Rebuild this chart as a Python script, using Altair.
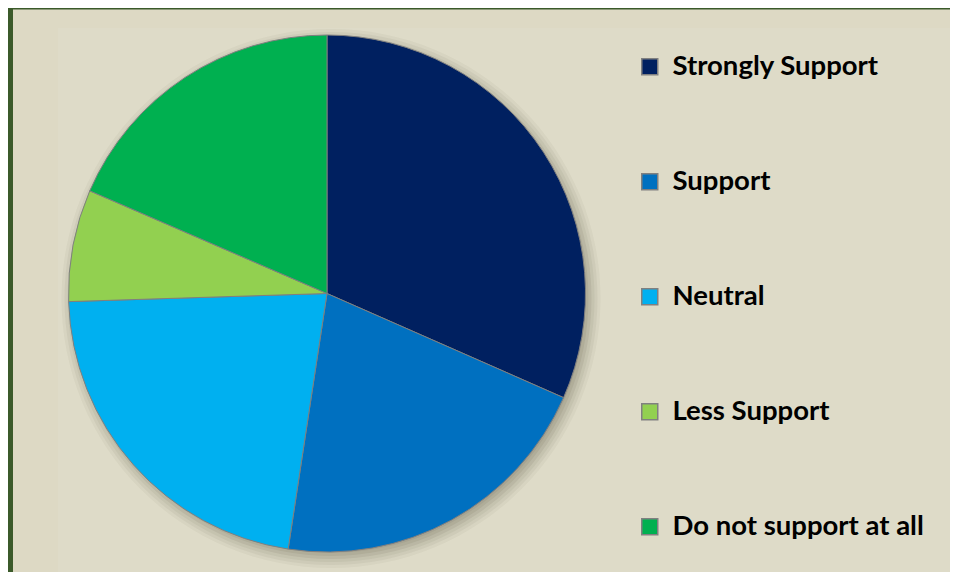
import altair as alt
import pandas as pd

categories = ["Strongly Support", "Support", "Neutral", "Less Support", "Do not support at all"]
values = [31.6, 20.8, 22.1, 7.0, 18.5]
colors = ["#002060", "#0070C0", "#00B0F0", "#92D050", "#00B050"]

df = pd.DataFrame({"category": categories, "value": values, "order": list(range(len(categories)))})

W, H = 942, 564
CX, CY, R = 319, 285.5, 258.5

one = pd.DataFrame({"a": [0]})

inner = alt.Chart(one).mark_rect(color="#DEDBC8").encode(
    x=alt.value(50), x2=alt.value(W), y=alt.value(20), y2=alt.value(H))
left_border = alt.Chart(one).mark_rect(color="#3B5A2A").encode(
    x=alt.value(0), x2=alt.value(5), y=alt.value(0), y2=alt.value(H))
top_border = alt.Chart(one).mark_rect(color="#3B5A2A").encode(
    x=alt.value(0), x2=alt.value(W), y=alt.value(0), y2=alt.value(1.5))

shadows = []
for dr, op in [(-4, 0.08), (-1, 0.08), (2, 0.07), (5, 0.06), (8, 0.05), (11, 0.04)]:
    shadows.append(
        alt.Chart(one).mark_arc(theta=0, theta2=6.2832, outerRadius=R + dr,
                                color="#3a3420", opacity=op).encode(
            x=alt.value(CX + 4), y=alt.value(CY + 5))
    )

pie = alt.Chart(df).mark_arc(outerRadius=R, stroke="#7F7F7F", strokeWidth=1).encode(
    theta=alt.Theta("value:Q", stack=True),
    order=alt.Order("order:Q"),
    color=alt.Color(
        "category:N",
        scale=alt.Scale(domain=categories, range=colors),
        legend=alt.Legend(
            title=None, orient="none", legendX=628, legendY=45,
            symbolType="square", symbolSize=256,
            symbolStrokeColor="#808080", symbolStrokeWidth=1.5,
            symbolOpacity=1,
            labelFont="Lato", labelFontSize=27.5, labelFontWeight="bold",
            labelColor="black", labelOffset=9, rowPadding=86,
            padding=0, labelLimit=400,
        ),
    ),
    x=alt.value(CX), y=alt.value(CY),
)

chart = alt.layer(inner, left_border, top_border, *shadows, pie).properties(
    width=W, height=H, autosize=alt.AutoSizeParams(type="none"), padding=0,
    background="#DDD9C4",
).configure_view(stroke=None)

chart.save("out.html", embed_options={"renderer": "svg", "actions": False})
